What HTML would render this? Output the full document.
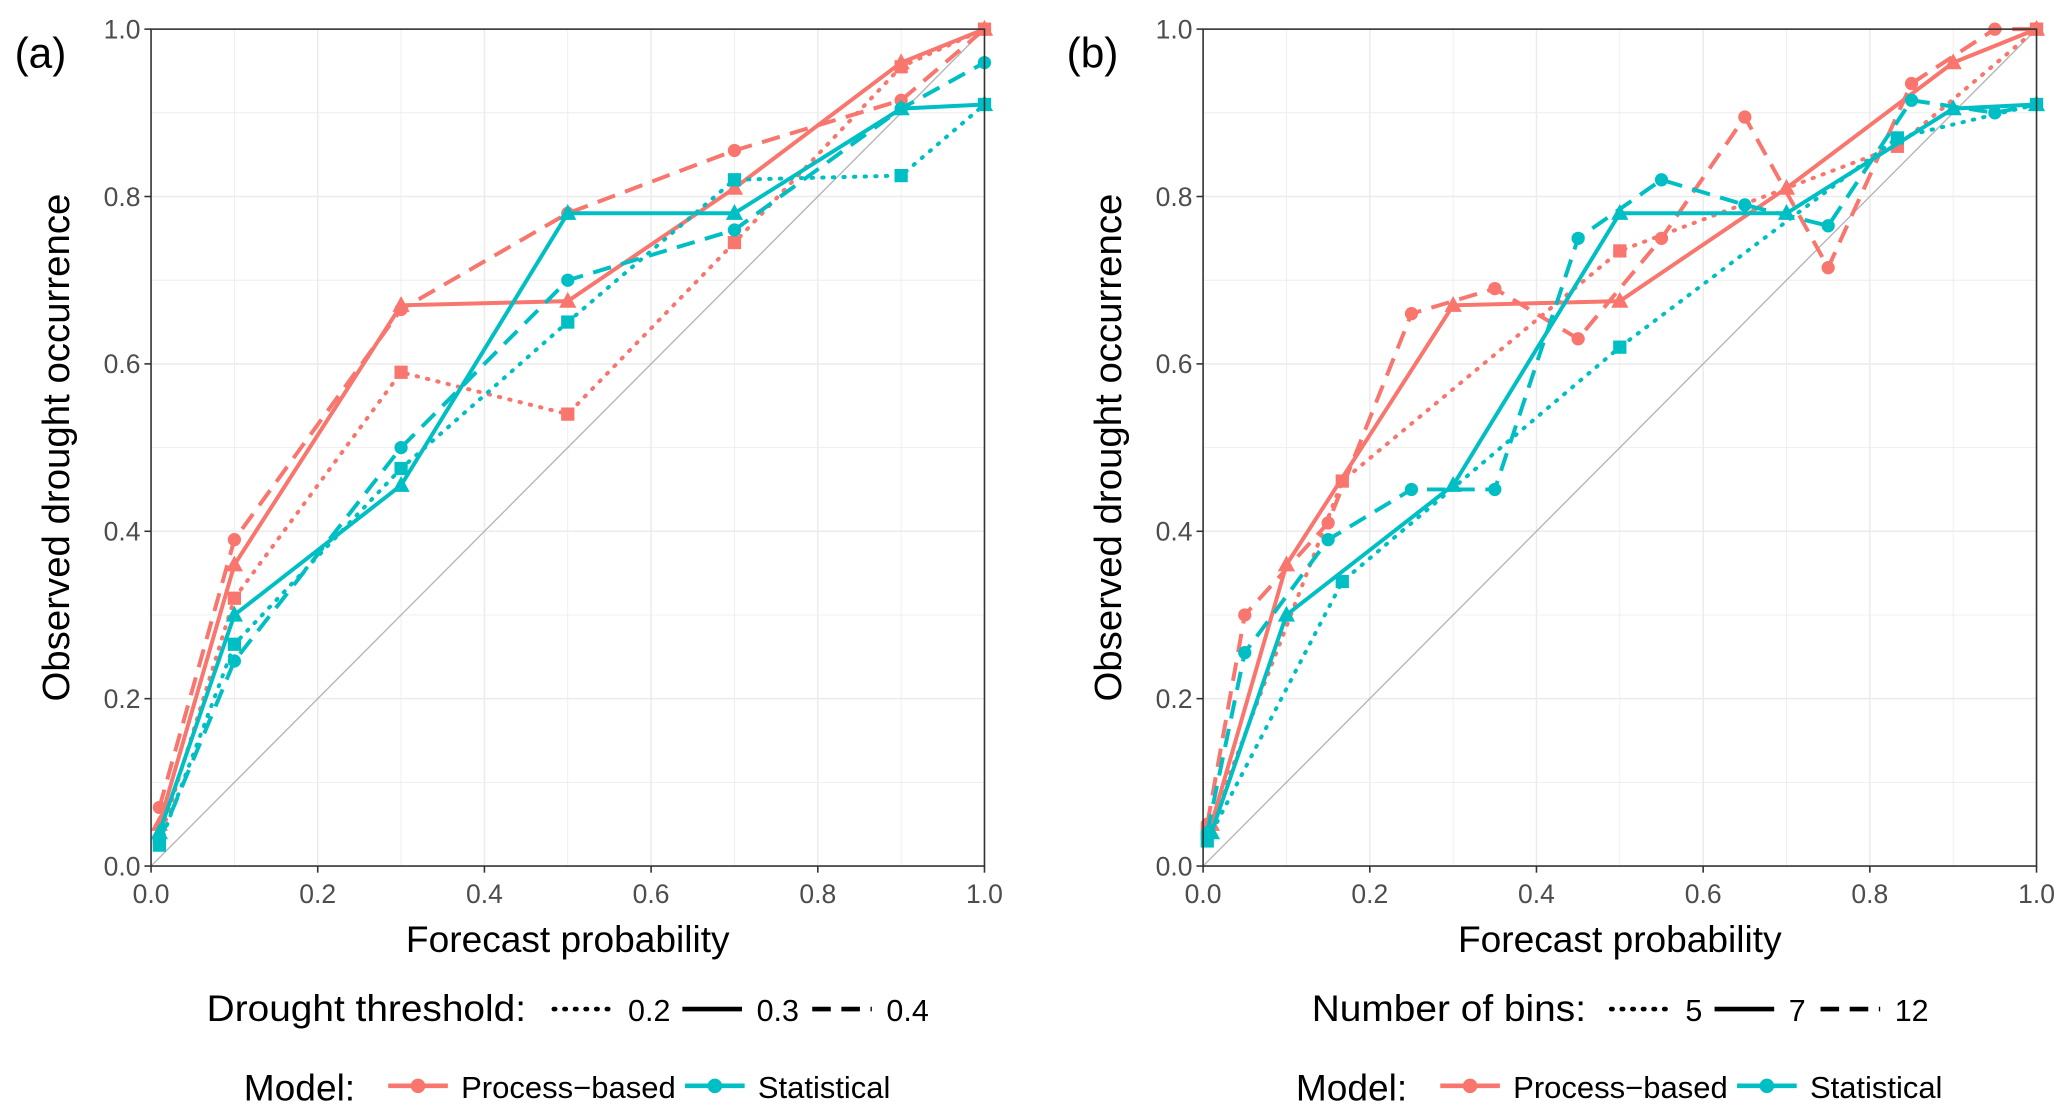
<!DOCTYPE html>
<html><head><meta charset="utf-8"><style>
html,body{margin:0;padding:0;background:#fff}
svg{display:block;font-family:"Liberation Sans",sans-serif}
</style></head><body>
<svg id="chart" width="2067" height="1115" viewBox="0 0 1560 842" preserveAspectRatio="none" xmlns="http://www.w3.org/2000/svg"></svg>
<script>
// ---------- data ----------
const ticks = [0, 0.2, 0.4, 0.6, 0.8, 1.0];
const tickLabels = ["0.0","0.2","0.4","0.6","0.8","1.0"];
// Panel a
const aX = [0.01, 0.1, 0.3, 0.5, 0.7, 0.9, 1.0];
const aProc02 = [0.03, 0.32, 0.59, 0.54, 0.745, 0.955, 1.0];
const aProc03 = [0.05, 0.36, 0.67, 0.675, 0.81, 0.96, 1.0];
const aProc04 = [0.07, 0.39, 0.665, 0.78, 0.855, 0.915, 1.0];
const aStat02 = [0.025, 0.265, 0.475, 0.65, 0.82, 0.825, 0.91];
const aStat03 = [0.04, 0.30, 0.455, 0.78, 0.78, 0.905, 0.91];
const aStat04 = [0.03, 0.245, 0.50, 0.70, 0.76, 0.905, 0.96];
// Panel b
const b5X = [0.005, 0.167, 0.5, 0.833, 1.0];
const bProc5 = [0.04, 0.46, 0.735, 0.86, 1.0];
const bStat5 = [0.03, 0.34, 0.62, 0.87, 0.91];
const b7X = [0.01, 0.1, 0.3, 0.5, 0.7, 0.9, 1.0];
const bProc7 = [0.05, 0.36, 0.67, 0.675, 0.81, 0.96, 1.0];
const bStat7 = [0.04, 0.30, 0.455, 0.78, 0.78, 0.905, 0.91];
const b12X = [0.005, 0.05, 0.15, 0.25, 0.35, 0.45, 0.55, 0.65, 0.75, 0.85, 0.95, 1.0];
const bProc12 = [0.05, 0.30, 0.41, 0.66, 0.69, 0.63, 0.75, 0.895, 0.715, 0.935, 1.0, 1.0];
const bStat12 = [0.04, 0.255, 0.39, 0.45, 0.45, 0.75, 0.82, 0.79, 0.765, 0.915, 0.90, 0.91];

const RED = "#F8766D", CYAN = "#00BFC4";
const NS = "http://www.w3.org/2000/svg";
const svg = document.getElementById("chart");
function mk(tag, attrs, parent) {
  const e = document.createElementNS(NS, tag);
  for (const k in attrs) e.setAttribute(k, attrs[k]);
  (parent || svg).appendChild(e);
  return e;
}
const Y0 = 654, Y1 = 22;
function panel(x0, x1, label, id, series, legTitle, legLabels, legX) {
  const sx = v => x0 + v * (x1 - x0);
  const sy = v => Y0 - v * (Y0 - Y1);
  const g = mk("g", {});
  
  
  for (let i = 0; i <= 10; i++) {
    const v = i / 10, major = i % 2 === 0;
    const gl = mk("line", {x1: sx(v), x2: sx(v), y1: Y1, y2: Y0, stroke: "#ebebeb", "stroke-width": major ? 1.1 : 0.6}, g);
    
    
    const gh = mk("line", {x1: x0, x2: x1, y1: sy(v), y2: sy(v), stroke: "#ebebeb", "stroke-width": major ? 1.1 : 0.6}, g);
    
    
  }
  const d = mk("line", {x1: sx(0), y1: sy(0), x2: sx(1), y2: sy(1), stroke: "#b3b3b3", "stroke-width": 1}, g);
  
  
  series.forEach(s => {
    const sg = mk("g", {}, g);
    
    
    const pts = s.x.map((xv, i) => sx(xv) + "," + sy(s.y[i])).join(" ");
    const dash = s.style === "dot" ? "1,7" : s.style === "dash" ? "14,8" : "none";
    const pl = mk("polyline", {points: pts, fill: "none", stroke: s.color, "stroke-width": 3, "stroke-dasharray": dash, "stroke-linecap": s.style === "dot" ? "round" : "butt"}, sg);
    
    
    s.x.forEach((xv, i) => {
      const cx = sx(xv), cy = sy(s.y[i]);
      let m;
      if (s.shape === "circle") m = mk("circle", {cx, cy, r: 5, fill: s.color}, sg);
      else if (s.shape === "square") m = mk("rect", {x: cx - 5, y: cy - 5, width: 10, height: 10, fill: s.color}, sg);
      else m = mk("polygon", {points: `${cx},${cy-7} ${cx-6.5},${cy+5} ${cx+6.5},${cy+5}`, fill: s.color}, sg);
      
      
    });
  });
  const b = mk("rect", {x: x0, y: Y1, width: x1 - x0, height: Y0 - Y1, fill: "none", stroke: "#333", "stroke-width": 1.2}, g);
  
  
  ticks.forEach((v, i) => {
    const t1 = mk("line", {x1: sx(v), x2: sx(v), y1: Y0, y2: Y0 + 5, stroke: "#333", "stroke-width": 1.2}, g);
    
    
    const l1 = mk("text", {x: sx(v), y: Y0 + 28, "text-anchor": "middle", "font-size": 20, fill: "#4d4d4d"}, g);
    l1.textContent = tickLabels[i];
    
    
    const t2 = mk("line", {x1: x0 - 5, x2: x0, y1: sy(v), y2: sy(v), stroke: "#333", "stroke-width": 1.2}, g);
    
    
    const l2 = mk("text", {x: x0 - 8, y: sy(v) + 7, "text-anchor": "end", "font-size": 20, fill: "#4d4d4d"}, g);
    l2.textContent = tickLabels[i];
    
    
  });
  const xt = mk("text", {x: (x0 + x1) / 2, y: 719, "text-anchor": "middle", "font-size": 28, fill: "#000"}, g);
  xt.textContent = "Forecast probability";
  
  
  const yt = mk("text", {x: 0, y: 0, "text-anchor": "middle", "font-size": 29, fill: "#000", transform: `translate(${x0 - 62},${(Y0 + Y1) / 2}) rotate(-90)`}, g);
  yt.textContent = "Observed drought occurrence";
  
  
  const pl = mk("text", {x: x0 - 103, y: 51, "font-size": 32, fill: "#000"}, g);
  pl.textContent = label;
  
  

  const lg = mk("g", {}, g);
  
  
  const lt = mk("text", {x: legX.title, y: 771, "font-size": 28, fill: "#000", textLength: legX.titleW, lengthAdjust: "spacingAndGlyphs"}, lg);
  lt.textContent = legTitle;
  
  
  const dashes = ["1,7", "none", "14,8"];
  legLabels.forEach((lab, i) => {
    const kx = legX.keys[i];
    const kl = mk("line", {x1: kx, x2: kx + 45, y1: 762, y2: 762, stroke: "#000", "stroke-width": 3.5, "stroke-dasharray": dashes[i], "stroke-linecap": i === 0 ? "round" : "butt"}, lg);
    
    
    const kt = mk("text", {x: kx + 56, y: 771, "font-size": 23, fill: "#000"}, lg);
    kt.textContent = lab;
    
    
  });
  const mg = mk("g", {}, g);
  
  
  const mt = mk("text", {x: legX.model, y: 831, "font-size": 28, fill: "#000"}, mg);
  mt.textContent = "Model:";
  
  
  [["Process\u2212based", RED, legX.m1, 162], ["Statistical", CYAN, legX.m2, 100]].forEach(([lab, col, mx, w]) => {
    const l = mk("line", {x1: mx, x2: mx + 45, y1: 820, y2: 820, stroke: col, "stroke-width": 3.5}, mg);
    
    
    const c = mk("circle", {cx: mx + 22.5, cy: 820, r: 5.5, fill: col}, mg);
    
    
    const t = mk("text", {x: mx + 55, y: 829, "font-size": 23, fill: "#000", textLength: w, lengthAdjust: "spacingAndGlyphs"}, mg);
    t.textContent = lab;
    
    
  });
}

panel(114, 743, "(a)", "a", [
  {name: "process-0.2", x: aX, y: aProc02, color: RED, style: "dot", shape: "square"},
  {name: "process-0.3", x: aX, y: aProc03, color: RED, style: "solid", shape: "tri"},
  {name: "process-0.4", x: aX, y: aProc04, color: RED, style: "dash", shape: "circle"},
  {name: "statistical-0.2", x: aX, y: aStat02, color: CYAN, style: "dot", shape: "square"},
  {name: "statistical-0.3", x: aX, y: aStat03, color: CYAN, style: "solid", shape: "tri"},
  {name: "statistical-0.4", x: aX, y: aStat04, color: CYAN, style: "dash", shape: "circle"}
], "Drought threshold:", ["0.2", "0.3", "0.4"], {title: 156, titleW: 241, keys: [418, 515, 613], model: 184, m1: 293, m2: 517});

panel(908, 1537, "(b)", "b", [
  {name: "process-5-bins", x: b5X, y: bProc5, color: RED, style: "dot", shape: "square"},
  {name: "process-7-bins", x: b7X, y: bProc7, color: RED, style: "solid", shape: "tri"},
  {name: "process-12-bins", x: b12X, y: bProc12, color: RED, style: "dash", shape: "circle"},
  {name: "statistical-5-bins", x: b5X, y: bStat5, color: CYAN, style: "dot", shape: "square"},
  {name: "statistical-7-bins", x: b7X, y: bStat7, color: CYAN, style: "solid", shape: "tri"},
  {name: "statistical-12-bins", x: b12X, y: bStat12, color: CYAN, style: "dash", shape: "circle"}
], "Number of bins:", ["5", "7", "12"], {title: 990, titleW: 207, keys: [1216, 1294, 1374], model: 978, m1: 1087, m2: 1311});
</script>
</body></html>
